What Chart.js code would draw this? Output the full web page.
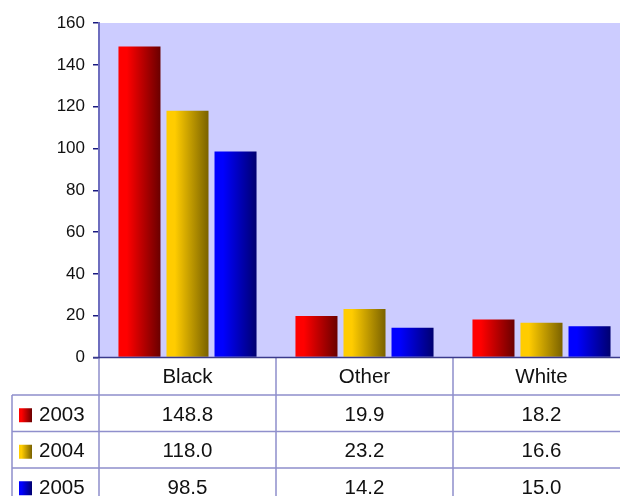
<!DOCTYPE html>
<html>
<head>
<meta charset="UTF-8" />
<script src="https://cdn.jsdelivr.net/npm/chart.js@4/dist/chart.umd.min.js"></script>
<style>
  html, body { margin: 0; padding: 0; background: #fff; overflow: hidden; width: 620px; height: 496px; }
  #wrap { width: 630px; height: 496px; }
</style>
</head>
<body>
<div id="wrap"><canvas id="chart" width="630" height="496"></canvas></div>
<script>
const categories = ["Black", "Other", "White"];
const seriesNames = ["2003", "2004", "2005"];
const values2003 = [148.8, 19.9, 18.2];
const values2004 = [118.0, 23.2, 16.6];
const values2005 = [98.5, 14.2, 15.0];
const yTicks = [0, 20, 40, 60, 80, 100, 120, 140, 160];

// left (bright) and right (dark) colour of each bar gradient
const gradientStops = [
  ["#ff0000", "#6a0000"],
  ["#ffcc00", "#7a6200"],
  ["#0000ff", "#000070"],
];

const FONT = "Arial, 'Liberation Sans', sans-serif";
const TABLE_LINE = "#8f8fcc";
const ROW_TOP = 395;
const ROW_H = 36.5;

function barGradient(ctx, x0, x1, stops) {
  const g = ctx.createLinearGradient(x0, 0, x1, 0);
  g.addColorStop(0, stops[0]);
  g.addColorStop(0.2, stops[0]);
  g.addColorStop(1, stops[1]);
  return g;
}

const tablePlugin = {
  id: "tablePlugin",
  beforeDraw(chart) {
    const { ctx, chartArea } = chart;
    ctx.save();
    ctx.fillStyle = "#ccccff";
    ctx.fillRect(chartArea.left, chartArea.top, chartArea.right - chartArea.left, chartArea.bottom - chartArea.top);
    ctx.restore();
  },
  beforeDatasetsDraw(chart) {
    chart.data.datasets.forEach((ds, i) => {
      const meta = chart.getDatasetMeta(i);
      meta.data.forEach((bar) => {
        const half = bar.width / 2;
        bar.options.backgroundColor = barGradient(chart.ctx, bar.x - half, bar.x + half, gradientStops[i]);
      });
    });
  },
  afterDraw(chart) {
    const { ctx, chartArea } = chart;
    const xScale = chart.scales.x;
    const step = xScale.getPixelForValue(1) - xScale.getPixelForValue(0);
    const left = chartArea.left;
    const bottom = chartArea.bottom;
    const tableLeft = 12;
    const rowsEnd = ROW_TOP + ROW_H * seriesNames.length;

    ctx.save();
    ctx.lineWidth = 1.5;
    ctx.strokeStyle = TABLE_LINE;
    ctx.beginPath();
    // vertical lines
    ctx.moveTo(tableLeft, ROW_TOP);
    ctx.lineTo(tableLeft, rowsEnd);
    for (let i = 0; i <= categories.length; i++) {
      const x = left + step * i;
      ctx.moveTo(x, bottom);
      ctx.lineTo(x, rowsEnd);
    }
    // horizontal lines
    for (let r = 0; r < seriesNames.length; r++) {
      const y = ROW_TOP + ROW_H * r;
      ctx.moveTo(tableLeft, y);
      ctx.lineTo(chartArea.right, y);
    }
    ctx.stroke();

    // axis base line
    ctx.strokeStyle = "#3a3a8c";
    ctx.lineWidth = 1.5;
    ctx.beginPath();
    ctx.moveTo(left - 6, bottom);
    ctx.lineTo(chartArea.right, bottom);
    ctx.stroke();

    ctx.fillStyle = "#111";
    ctx.font = "20.5px " + FONT;
    ctx.textAlign = "center";
    ctx.textBaseline = "middle";
    categories.forEach((c, i) => {
      ctx.fillText(c, xScale.getPixelForValue(i), (bottom + ROW_TOP) / 2 + 1);
    });

    const allValues = [values2003, values2004, values2005];
    seriesNames.forEach((name, r) => {
      const yMid = ROW_TOP + ROW_H * r + ROW_H / 2 + 2;
      // legend swatch
      ctx.fillStyle = barGradient(ctx, 19, 32, gradientStops[r]);
      ctx.fillRect(19, yMid - 7, 13, 14);
      ctx.fillStyle = "#111";
      ctx.textAlign = "left";
      ctx.fillText(name, 39, yMid);
      ctx.textAlign = "center";
      allValues[r].forEach((v, i) => {
        ctx.fillText(v.toFixed(1), xScale.getPixelForValue(i), yMid);
      });
    });
    ctx.restore();
  },
};

const datasets = seriesNames.map((name, i) => ({
  label: name,
  data: [values2003, values2004, values2005][i],
  backgroundColor: () => gradientStops[i][0],
  borderWidth: 0,
  barPercentage: 0.875,
  categoryPercentage: 0.814,
}));

new Chart(document.getElementById("chart"), {
  type: "bar",
  data: { labels: categories, datasets },
  plugins: [tablePlugin],
  options: {
    responsive: false,
    animation: false,
    layout: { padding: { top: 23, right: 0, bottom: 138.5, left: 0 } },
    plugins: {
      legend: { display: false },
      tooltip: { enabled: false },
    },
    scales: {
      x: { display: false },
      y: {
        min: 0,
        max: 160,
        afterFit(scale) {
          scale.width = 99;
        },
        afterBuildTicks(scale) {
          scale.ticks = yTicks.map((v) => ({ value: v }));
        },
        grid: {
          drawOnChartArea: false,
          drawTicks: true,
          tickLength: 6,
          tickColor: "#1a1a80",
          lineWidth: 1.5,
        },
        border: { display: true, color: "#6e6ebf", width: 2 },
        ticks: {
          color: "#111",
          padding: 8,
          font: { family: FONT, size: 17 },
        },
      },
    },
  },
});
</script>
</body>
</html>
